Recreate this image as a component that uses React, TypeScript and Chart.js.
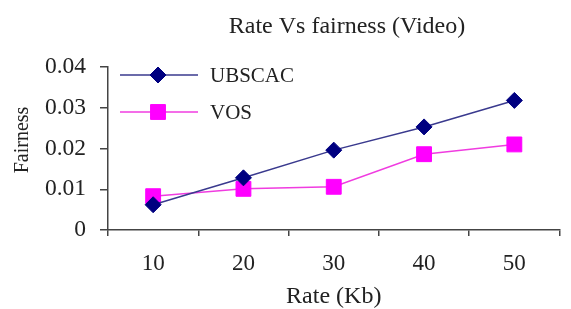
import React, { useEffect, useRef } from 'react';
import { Chart, registerables } from 'chart.js';

Chart.register(...registerables);

const categories = ['10', '20', '30', '40', '50'];
const ubscacValues = [0.0062, 0.0128, 0.0196, 0.0253, 0.0318];
const vosValues = [0.0083, 0.0101, 0.0106, 0.0186, 0.021];
const yTickValues = [0, 0.01, 0.02, 0.03, 0.04];
const seriesNames = ['UBSCAC', 'VOS'];
const chartTitle = 'Rate Vs fairness (Video)';
const xAxisTitle = 'Rate (Kb)';
const yAxisTitle = 'Fairness';

const FONT = "'Liberation Serif', 'Times New Roman', serif";
const TEXT = '#222222';
const AXIS = '#444444';

function drawMarker(ctx: CanvasRenderingContext2D, style: string, x: number, y: number, r: number, fill: string, stroke: string) {
  ctx.beginPath();
  if (style === 'rectRot') {
    ctx.moveTo(x - r, y);
    ctx.lineTo(x, y - r);
    ctx.lineTo(x + r, y);
    ctx.lineTo(x, y + r);
  } else {
    const s = r * Math.SQRT1_2;
    ctx.moveTo(x - s, y - s);
    ctx.lineTo(x + s, y - s);
    ctx.lineTo(x + s, y + s);
    ctx.lineTo(x - s, y + s);
  }
  ctx.closePath();
  ctx.fillStyle = fill;
  ctx.fill();
  ctx.lineWidth = 1;
  ctx.strokeStyle = stroke;
  ctx.stroke();
}

const overlayPlugin = {
  id: 'overlay',
  afterDraw(chart: any) {
    const ctx: CanvasRenderingContext2D = chart.ctx;
    const a = chart.chartArea;
    ctx.save();
    // Chart title
    ctx.font = `24px ${FONT}`;
    ctx.fillStyle = TEXT;
    ctx.textAlign = 'center';
    ctx.textBaseline = 'alphabetic';
    ctx.fillText(chartTitle, a.left + 239, 33);

    // Y axis title
    ctx.save();
    ctx.translate(23, a.top + 73);
    ctx.rotate(-Math.PI / 2);
    ctx.font = `20px ${FONT}`;
    ctx.textBaseline = 'middle';
    ctx.textAlign = 'center';
    ctx.fillText(yAxisTitle, 0, 0);
    ctx.restore();

    // Legend inside plot
    chart.data.datasets.forEach((ds: any, i: number) => {
      const y = a.top + 8 + i * 37;
      ctx.beginPath();
      ctx.moveTo(a.left + 12, y);
      ctx.lineTo(a.left + 90, y);
      ctx.strokeStyle = ds.borderColor;
      ctx.lineWidth = ds.borderWidth;
      ctx.stroke();
      drawMarker(ctx, ds.pointStyle, a.left + 50, y, ds.pointRadius, ds.pointBackgroundColor, ds.pointBorderColor);
      ctx.font = `21px ${FONT}`;
      ctx.fillStyle = TEXT;
      ctx.textAlign = 'left';
      ctx.textBaseline = 'middle';
      ctx.fillText(ds.label, a.left + 102, y + 1);
    });
    ctx.restore();
  },
};

export default function App() {
  const canvasRef = useRef<HTMLCanvasElement | null>(null);

  useEffect(() => {
    document.body.style.margin = '0';
    const canvas = canvasRef.current;
    if (!canvas) return;
    const chart = new Chart(canvas, {
      type: 'line',
      data: {
        labels: categories,
        datasets: [
          {
            label: seriesNames[0],
            data: ubscacValues,
            borderColor: '#3a3a8e',
            borderWidth: 1.5,
            pointStyle: 'rectRot',
            pointRadius: 8,
            pointBackgroundColor: '#000080',
            pointBorderColor: '#000080',
            pointBorderWidth: 1,
            tension: 0,
          },
          {
            label: seriesNames[1],
            data: vosValues,
            borderColor: '#f03ce0',
            borderWidth: 1.5,
            pointStyle: 'rect',
            pointRadius: 10.5,
            pointBackgroundColor: '#ff00ff',
            pointBorderColor: '#ff00ff',
            pointBorderWidth: 1,
            tension: 0,
          },
        ],
      },
      options: {
        responsive: true,
        maintainAspectRatio: false,
        animation: false,
        layout: { padding: { top: 67, right: 2, left: 0, bottom: 0 } },
        plugins: {
          legend: { display: false },
          title: { display: false },
          tooltip: { enabled: false },
        },
        scales: {
          x: {
            type: 'category',
            offset: true,
            grid: {
              offset: true,
              drawOnChartArea: false,
              drawTicks: true,
              tickLength: 6,
              color: AXIS,
              lineWidth: 1.5,
            },
            border: { display: true, color: AXIS, width: 1.5 },
            ticks: {
              color: TEXT,
              font: { family: FONT, size: 23 },
              padding: 14,
              maxRotation: 0,
            },
            title: {
              display: true,
              text: xAxisTitle,
              color: TEXT,
              font: { family: FONT, size: 24, lineHeight: 1 },
              padding: { top: 0, bottom: 0 },
            },
            afterFit: (scale: any) => {
              scale.height = 79;
            },
          },
          y: {
            type: 'linear',
            min: 0,
            max: 0.04,
            afterBuildTicks: (scale: any) => {
              scale.ticks = yTickValues.map((v) => ({ value: v }));
            },
            grid: {
              drawOnChartArea: false,
              drawTicks: true,
              tickLength: 8,
              color: AXIS,
              lineWidth: 1.5,
            },
            border: { display: true, color: AXIS, width: 1.5 },
            ticks: {
              color: TEXT,
              font: { family: FONT, size: 23.5 },
              padding: 14,
              callback: (v: any) => (Number(v) === 0 ? '0' : Number(v).toFixed(2)),
            },
            afterFit: (scale: any) => {
              scale.width = 108;
            },
          },
        },
      },
      plugins: [overlayPlugin],
    });
    return () => chart.destroy();
  }, []);

  return (
    <div style={{ width: 571, height: 309, position: 'relative', background: '#ffffff' }}>
      <canvas ref={canvasRef} />
    </div>
  );
}
